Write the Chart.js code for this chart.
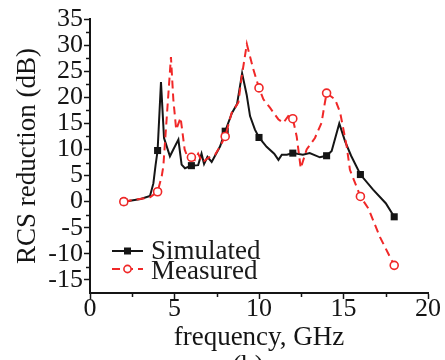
<!DOCTYPE html>
<html><head><meta charset="utf-8">
<script src="https://cdn.jsdelivr.net/npm/chart.js@4/dist/chart.umd.min.js"></script>
<style>html,body{margin:0;padding:0;background:#fff;overflow:hidden;}#wrap{width:445px;height:360px;}</style>
</head><body><div id="wrap"><canvas id="c" width="445" height="360"></canvas></div>
<script>
// ---- data ----
const simFreq = [2, 3.0, 3.55, 3.75, 3.88, 4, 4.2, 4.38, 4.54, 4.73, 4.93, 5.23, 5.42, 5.62, 6, 6.4, 6.6, 6.75, 6.95, 7.2, 7.7, 8, 8.4, 8.7, 9.0, 9.27, 9.47, 9.76, 10, 10.45, 10.9, 11.15, 11.35, 11.65, 12, 12.6, 13.0, 13.6, 14, 14.3, 14.75, 15.1, 15.45, 16, 16.75, 17.5, 18];
const simRCS  = [0, 0.5, 1.1, 3.5, 7.0, 9.8, 22.9, 12.2, 10.6, 8.7, 10.0, 11.9, 7.1, 6.4, 6.9, 7.0, 9.2, 7.2, 8.6, 7.6, 10.6, 13.5, 17.0, 18.7, 24.6, 20.5, 16.4, 13.8, 12.3, 10.5, 9.2, 8.0, 9.0, 9.0, 9.3, 9.0, 9.3, 8.5, 8.8, 9.7, 15.0, 11.5, 8.8, 5.2, 2.3, -0.3, -2.9];
const measFreq = [2, 3.55, 4, 4.24, 4.34, 4.79, 4.93, 5.1, 5.36, 5.6, 5.8, 6, 6.2, 6.4, 6.65, 7.0, 7.4, 7.7, 8, 8.38, 8.78, 8.97, 9.28, 9.66, 10, 10.26, 10.65, 11.14, 11.44, 11.73, 12, 12.23, 12.47, 12.82, 13.31, 13.7, 13.9, 14, 14.5, 14.8, 15.19, 15.38, 16, 16.47, 17.16, 18];
const measRCS  = [0, 0.85, 1.9, 4.8, 6.8, 27.7, 19.6, 13.8, 16.1, 10.0, 8.3, 8.5, 8.0, 9.2, 7.5, 8.4, 9.0, 10.6, 12.5, 17.0, 19.0, 23.8, 30.2, 25.4, 21.8, 19.6, 18.0, 15.8, 15.1, 16.4, 15.9, 12.5, 6.4, 10.0, 12.2, 15.1, 19.0, 20.8, 19.6, 17.1, 10.6, 6.1, 1.0, -1.3, -6.8, -12.2];
const markerFreqs = [2, 4, 6, 8, 10, 12, 14, 16, 18];
const xTicks = [0, 5, 10, 15, 20];
const yTicks = [-15, -10, -5, 0, 5, 10, 15, 20, 25, 30, 35];
const xMinorTicks = [2.5, 7.5, 12.5, 17.5];
const yMinorTicks = [-12.5, -7.5, -2.5, 2.5, 7.5, 12.5, 17.5, 22.5, 27.5, 32.5];
const seriesNames = ['Simulated', 'Measured'];
const xTitle = 'frequency, GHz';
const yTitle = 'RCS reduction (dB)';
const panelLabel = '(b)';

const SERIF = '"Liberation Serif", "Times New Roman", serif';
const RED = '#f02828';
const BLACK = '#151515';

const toPts = (xs, ys) => xs.map((x, i) => ({x: x, y: ys[i]}));
const isMarker = ctx => ctx.raw && markerFreqs.includes(ctx.raw.x);

const extras = {
  id: 'extras',
  afterDraw(chart) {
    const ctx = chart.ctx;
    const xs = chart.scales.x, ys = chart.scales.y;
    const ca = chart.chartArea;
    ctx.save();
    ctx.strokeStyle = BLACK;
    ctx.lineWidth = 1.5;
    ctx.beginPath();
    xMinorTicks.forEach(v => { const p = Math.round(xs.getPixelForValue(v)) + 0.5; ctx.moveTo(p, ca.bottom); ctx.lineTo(p, ca.bottom + 4); });
    yMinorTicks.forEach(v => { const p = Math.round(ys.getPixelForValue(v)) + 0.5; ctx.moveTo(ca.left, p); ctx.lineTo(ca.left - 4, p); });
    ctx.stroke();

    // legend
    const lx = ca.left + 22, y1 = ca.top + 232, y2 = ca.top + 250;
    const ds = chart.data.datasets;
    ctx.setLineDash([]);
    ctx.strokeStyle = ds[0].borderColor; ctx.lineWidth = 2;
    ctx.beginPath(); ctx.moveTo(lx, y1); ctx.lineTo(lx + 31, y1); ctx.stroke();
    ctx.fillStyle = ds[0].borderColor;
    ctx.fillRect(lx + 15.5 - 3.5, y1 - 3.5, 7, 7);
    ctx.strokeStyle = ds[1].borderColor;
    ctx.setLineDash(ds[1].borderDash);
    ctx.beginPath(); ctx.moveTo(lx, y2); ctx.lineTo(lx + 31, y2); ctx.stroke();
    ctx.setLineDash([]);
    ctx.fillStyle = '#fff'; ctx.lineWidth = 1.6;
    ctx.beginPath(); ctx.arc(lx + 15.5, y2, 3.6, 0, Math.PI * 2); ctx.fill(); ctx.stroke();
    ctx.fillStyle = '#1a1a1a';
    ctx.font = '27px ' + SERIF;
    ctx.textBaseline = 'alphabetic';
    ctx.textAlign = 'left';
    ctx.fillText(seriesNames[0], lx + 39, y1 + 8);
    ctx.fillText(seriesNames[1], lx + 39, y2 + 10);

    // panel label partly cut off at bottom
    ctx.textAlign = 'center';
    ctx.fillText(panelLabel, (ca.left + ca.right) / 2 - 11, 374);
    ctx.restore();
  }
};

new Chart(document.getElementById('c'), {
  type: 'line',
  data: {
    datasets: [
      {
        label: seriesNames[0],
        data: toPts(simFreq, simRCS),
        borderColor: BLACK,
        backgroundColor: BLACK,
        borderWidth: 2,
        pointStyle: 'rect',
        pointRadius: ctx => isMarker(ctx) ? 5 : 0,
        pointBorderWidth: 0,
        tension: 0,
        order: 2
      },
      {
        label: seriesNames[1],
        data: toPts(measFreq, measRCS),
        borderColor: RED,
        backgroundColor: '#ffffff',
        borderWidth: 2,
        borderDash: [8, 5],
        pointStyle: 'circle',
        pointRadius: ctx => isMarker(ctx) ? 4 : 0,
        pointBorderWidth: 1.6,
        pointBorderColor: RED,
        pointBackgroundColor: '#ffffff',
        tension: 0,
        order: 1
      }
    ]
  },
  options: {
    responsive: false,
    animation: false,
    devicePixelRatio: 1,
    layout: { padding: { left: 0, top: 19, right: 17, bottom: 0 } },
    plugins: { legend: { display: false }, tooltip: { enabled: false } },
    scales: {
      x: {
        type: 'linear',
        min: 0, max: 20,
        afterBuildTicks: s => { s.ticks = xTicks.map(v => ({value: v})); },
        afterFit: s => { s.height = 67; },
        grid: { drawOnChartArea: false, drawTicks: true, tickLength: 6, tickWidth: 1.5, tickColor: BLACK },
        border: { display: true, color: BLACK, width: 2 },
        ticks: { color: '#151515', font: { family: SERIF, size: 26 }, padding: -5, maxRotation: 0, autoSkip: false },
        title: { display: true, text: xTitle, color: '#151515', font: { family: SERIF, size: 27 }, padding: { top: 0, bottom: 6 } }
      },
      y: {
        type: 'linear',
        min: -17.5, max: 35,
        afterBuildTicks: s => { s.ticks = yTicks.map(v => ({value: v})); },
        afterFit: s => { s.width = 90; },
        grid: { drawOnChartArea: false, drawTicks: true, tickLength: 6, tickWidth: 1.5, tickColor: BLACK },
        border: { display: true, color: BLACK, width: 2 },
        ticks: { color: '#151515', font: { family: SERIF, size: 26 }, padding: 1, autoSkip: false },
        title: { display: true, text: yTitle, color: '#151515', font: { family: SERIF, size: 27 }, padding: { top: 12, bottom: 0 } }
      }
    }
  },
  plugins: [extras]
});
</script>
</body></html>
